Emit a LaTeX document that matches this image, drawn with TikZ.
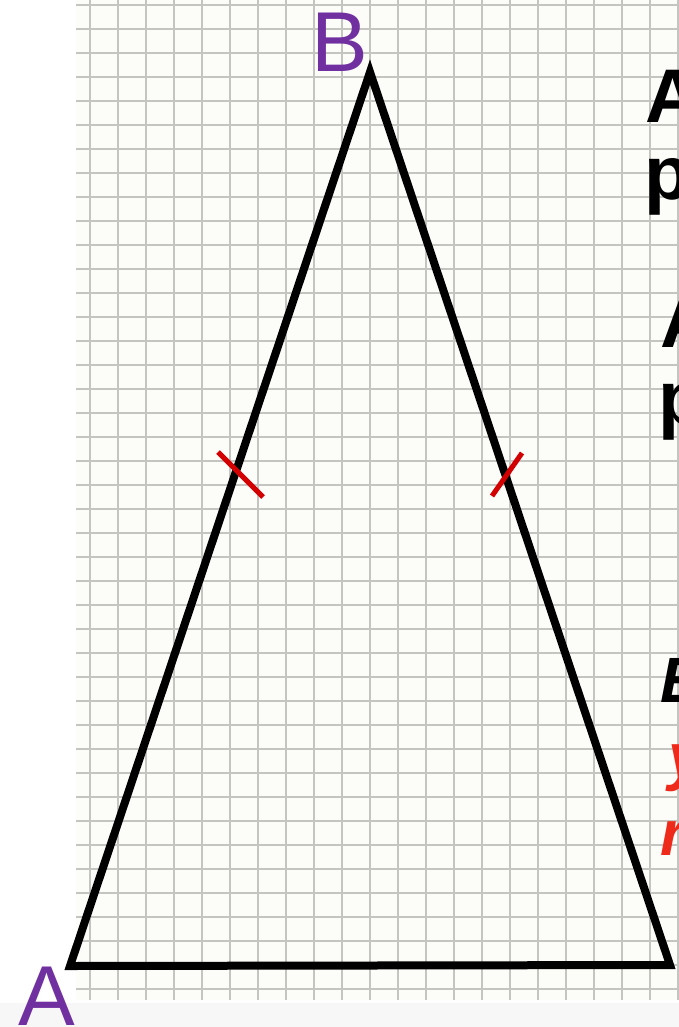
\documentclass[tikz,border=0pt]{standalone}
\usepackage{fontspec}
\setmainfont{Liberation Sans}
\definecolor{gridgray}{RGB}{196,196,192}
\definecolor{paper}{RGB}{252,252,249}
\definecolor{lblpurple}{RGB}{112,48,160}
\definecolor{tickred}{RGB}{210,0,0}
\definecolor{txtred}{RGB}{238,43,26}
\begin{document}
\begin{tikzpicture}[x=1pt,y=-1pt,
  gridline/.style={draw=gridgray,line width=2.6pt},
  side/.style={draw=black,line width=8pt,line join=miter},
  tickmark/.style={draw=tickred,line width=5pt},
  vlabel/.style={text=lblpurple,inner sep=0pt,anchor=base west,font=\fontsize{85}{85}\selectfont},
  rtext/.style={inner sep=0pt,anchor=base west,font=\bfseries\fontsize{76}{76}\selectfont},
  rtextit/.style={inner sep=0pt,anchor=base west,font=\bfseries\itshape\fontsize{64}{64}\selectfont}]
\useasboundingbox (0,0) rectangle (679,1027);
\clip (0,0) rectangle (679,1027);
\fill[white] (0,0) rectangle (679,1027);
\fill[paper] (76,0) rectangle (679,1000);
\fill[black!3!white] (0,1003) rectangle (679,1027);
% grid
\foreach \k in {0,...,41} {
  \draw[gridline] (76,5+24*\k) -- (679,5+24*\k);
}
\foreach \k in {0,...,21} {
  \draw[gridline] (90+28*\k,0) -- (90+28*\k,1000);
}
% triangle
\coordinate (A) at (70,966);
\coordinate (B) at (370,72);
\coordinate (C) at (670,965);
\draw[side] (A) -- (B) -- (C) -- cycle;
% equal-side ticks
\coordinate (t1a) at (218,452);
\coordinate (t1b) at (263,497);
\coordinate (t2a) at (522,453);
\coordinate (t2b) at (492,496);
\draw[tickmark] (t1a) -- (t1b);
\draw[tickmark] (t2a) -- (t2b);
% vertex labels
\node[vlabel] (lB) at (311,72) {B};
\node[vlabel] (lA) at (18,1025) {A};
% cut-off text on the right
\node[rtext] (r1) at (645,123) {A};
\node[rtext] (r2) at (644,200) {p};
\node[rtext] (r3) at (660,347) {A};
\node[rtext] (r4) at (658,424) {p};
\node[rtextit] (r5) at (660,702) {E};
\node[rtextit,text=txtred] (r6) at (668,778) {y};
\node[rtextit,text=txtred] (r7) at (660,855) {r};
\end{tikzpicture}
\end{document}
